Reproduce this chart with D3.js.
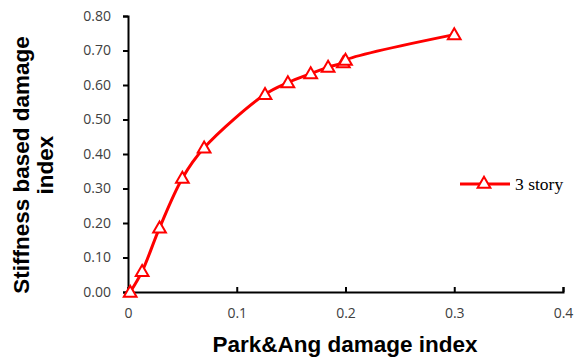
<!DOCTYPE html>
<html>
<head>
<meta charset="utf-8">
<script src="https://cdn.jsdelivr.net/npm/d3@7"></script>
<style>
  body { margin: 0; background: #fff; }
  svg { display: block; }
</style>
</head>
<body>
<svg id="chart" width="574" height="361"></svg>
<script>
const parkAng = [0.002, 0.013, 0.029, 0.050, 0.070, 0.126, 0.147, 0.168, 0.184, 0.198, 0.200, 0.300];
const stiffness = [0.000, 0.060, 0.186, 0.330, 0.418, 0.573, 0.607, 0.633, 0.652, 0.665, 0.672, 0.746];
const xTicks = [0, 0.1, 0.2, 0.3, 0.4];
const yTicks = [0, 0.1, 0.2, 0.3, 0.4, 0.5, 0.6, 0.7, 0.8];
const seriesName = "3 story";

const svg = d3.select("#chart");
const margin = { top: 16, right: 11, bottom: 69, left: 128 };
const width = 574 - margin.left - margin.right;
const height = 361 - margin.top - margin.bottom;

const g = svg.append("g").attr("transform", `translate(${margin.left},${margin.top})`);

const x = d3.scaleLinear().domain([0, 0.4]).range([0, width]);
const y = d3.scaleLinear().domain([0, 0.8]).range([height, 0]);

const xAxis = g.append("g")
  .attr("transform", `translate(0,${height})`)
  .call(d3.axisBottom(x).tickValues(xTicks).tickSize(-5).tickPadding(16).tickFormat(d => d === 0 ? "0" : d3.format(".1f")(d)));
const yAxis = g.append("g")
  .call(d3.axisLeft(y).tickValues(yTicks).tickSize(5).tickPadding(12).tickFormat(d3.format(".2f")));

[xAxis, yAxis].forEach(a => {
  a.select(".domain").attr("stroke", "#000").attr("stroke-width", 2);
  a.selectAll(".tick line").attr("stroke", "#000").attr("stroke-width", 2);
  a.selectAll("text").attr("fill", "#404040").style("font-family", "Open Sans, sans-serif").style("font-size", "14px");
});

const pts = parkAng.map((v, i) => [v, stiffness[i]]);

g.append("path")
  .datum(pts)
  .attr("fill", "none")
  .attr("stroke", "#ff0000")
  .attr("stroke-width", 3)
  .attr("d", d3.line().x(d => x(d[0])).y(d => y(d[1])).curve(d3.curveCatmullRom.alpha(0.5)));

const tri = d3.symbol().type(d3.symbolTriangle).size(70);
g.append("g")
  .selectAll("path")
  .data(pts)
  .enter()
  .append("path")
  .attr("transform", d => `translate(${x(d[0])},${y(d[1]) + 1})`)
  .attr("d", tri)
  .attr("fill", "#fff")
  .attr("stroke", "#ff0000")
  .attr("stroke-width", 2);

// legend
const lg = svg.append("g").attr("transform", "translate(460,184)");
lg.append("line").attr("x1", 0).attr("x2", 50).attr("stroke", "#ff0000").attr("stroke-width", 3);
lg.append("path").attr("transform", "translate(24,0)").attr("d", tri).attr("fill", "#fff").attr("stroke", "#ff0000").attr("stroke-width", 2);
lg.append("text").attr("x", 55).attr("y", 6)
  .style("font-family", "Liberation Serif, serif").style("font-size", "17.5px").attr("fill", "#000")
  .text(seriesName);

// axis titles
svg.append("text")
  .attr("x", 345).attr("y", 352)
  .attr("text-anchor", "middle")
  .style("font-family", "Liberation Sans, Arial, sans-serif").style("font-weight", "bold").style("font-size", "22.5px")
  .text("Park&Ang damage index");

const yt = svg.append("text")
  .attr("transform", "translate(0,165) rotate(-90)")
  .attr("text-anchor", "middle")
  .style("font-family", "Liberation Sans, Arial, sans-serif").style("font-weight", "bold").style("font-size", "22.5px");
yt.append("tspan").attr("x", 0).attr("y", 29).text("Stiffness based damage");
yt.append("tspan").attr("x", 0).attr("y", 53).text("index");
</script>
</body>
</html>
